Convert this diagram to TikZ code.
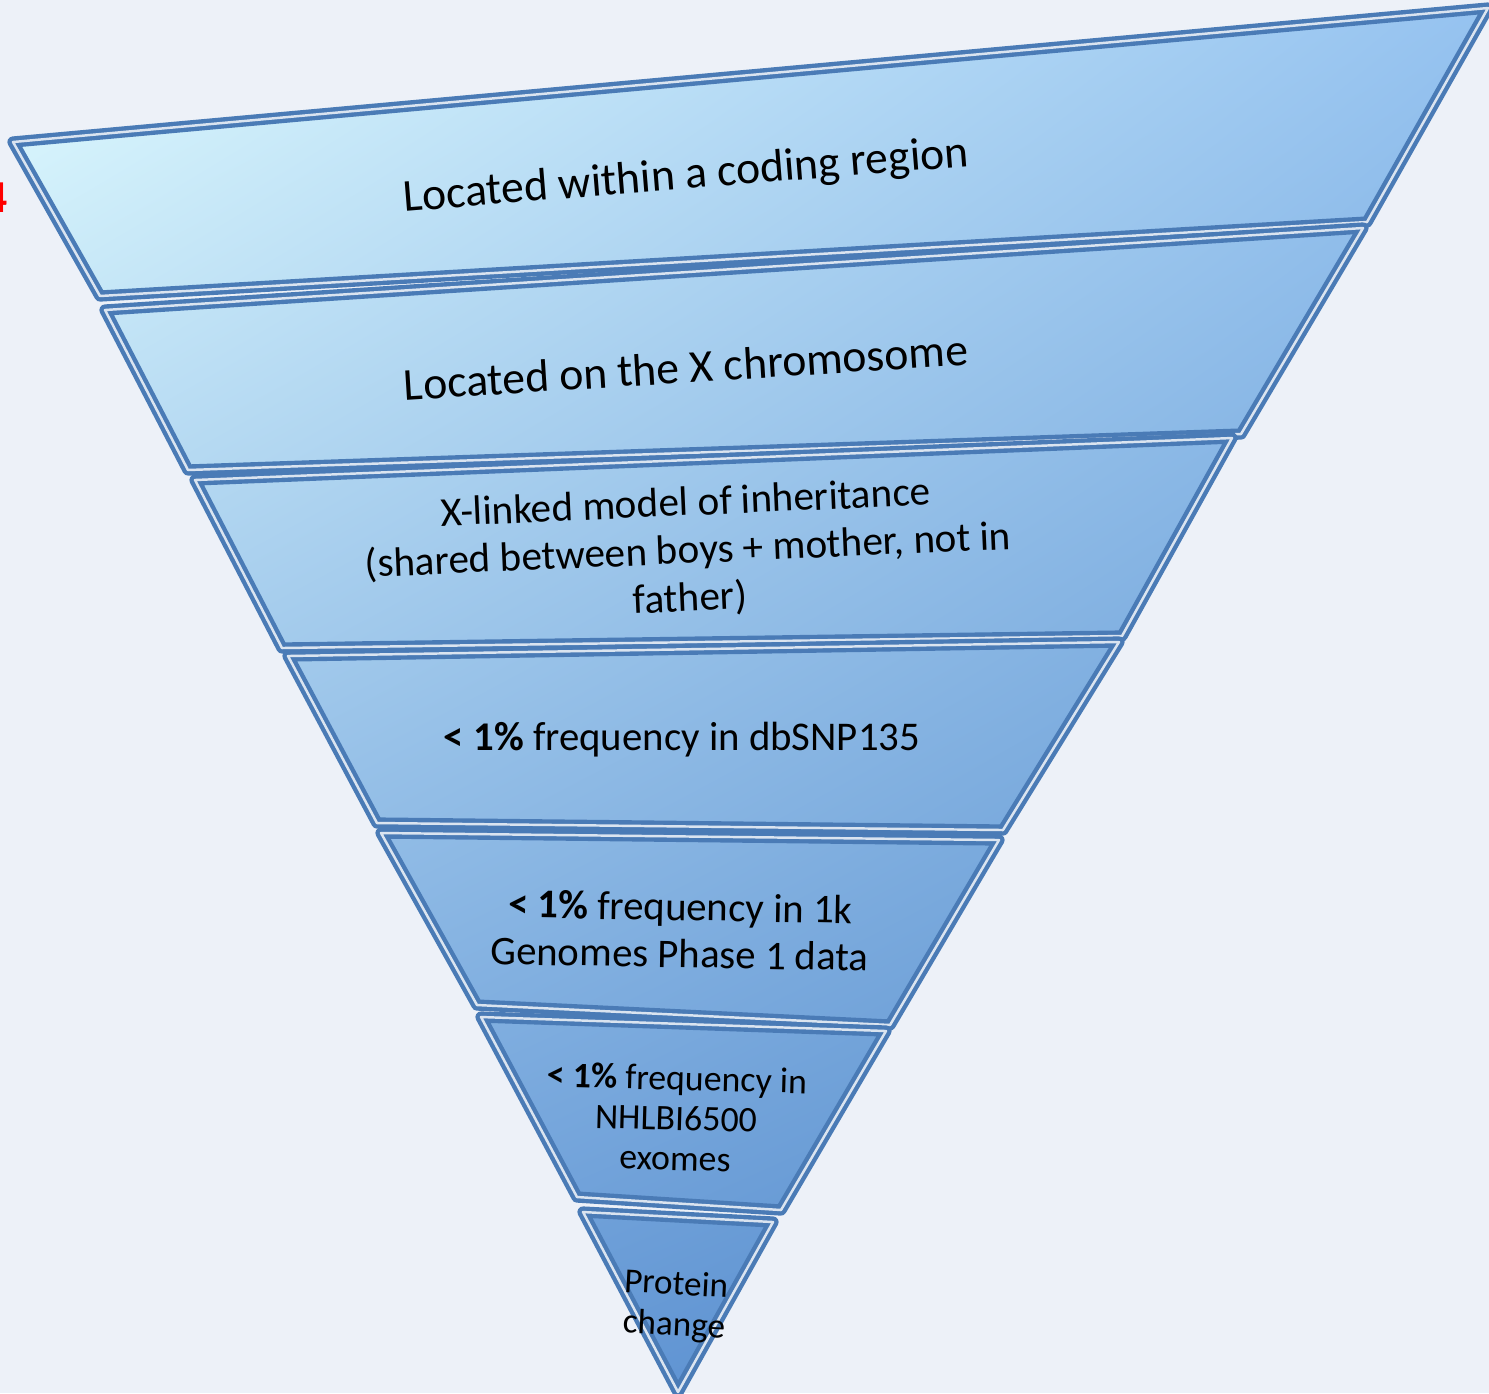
\documentclass[tikz,border=0pt]{standalone}
\usepackage{fontspec}
\setmainfont{Carlito}
\usetikzlibrary{shadings}
\definecolor{pagebg}{HTML}{EDF1F8}
\definecolor{rim}{HTML}{4A7BB6}
\definecolor{paleul}{HTML}{E2FDFF}
\definecolor{paleur}{HTML}{96C3F0}
\definecolor{deepll}{HTML}{72A3DE}
\definecolor{deeplr}{HTML}{4A82C5}

\begin{document}
\begin{tikzpicture}[x=0.01cm, y=-0.01cm,
    band/.style={draw=rim, line width=3.2pt, line join=round},
    ridge/.style={draw=white, line width=0.7pt, opacity=0.8, line join=round},
    label/.style={align=center, text=black, inner sep=0pt},
]
    \fill[pagebg] (0,0) rectangle (1489,1393);
    \useasboundingbox (0,0) rectangle (1489,1393);

    \coordinate (b1-tl) at (13,142);   \coordinate (b1-tr) at (1488,8);
    \coordinate (b1-br) at (1367,222); \coordinate (b1-bl) at (100,296);
    \coordinate (b2-tl) at (105,310);  \coordinate (b2-tr) at (1363,228);
    \coordinate (b2-br) at (1241,434); \coordinate (b2-bl) at (188,470);
    \coordinate (b3-tl) at (195,480);  \coordinate (b3-tr) at (1232,438);
    \coordinate (b3-br) at (1122,636); \coordinate (b3-bl) at (282,648);
    \coordinate (b4-tl) at (288,656);  \coordinate (b4-tr) at (1119,642);
    \coordinate (b4-br) at (1003,830); \coordinate (b4-bl) at (377,823);
    \coordinate (b5-tl) at (381,833);  \coordinate (b5-tr) at (999,840);
    \coordinate (b5-br) at (890,1025); \coordinate (b5-bl) at (477,1005);
    \coordinate (b6-tl) at (481,1017); \coordinate (b6-tr) at (886,1031);
    \coordinate (b6-br) at (781,1210); \coordinate (b6-bl) at (577,1197);
    \coordinate (b7-tl) at (583,1212); \coordinate (b7-tr) at (773,1222);
    \coordinate (b7-br) at (678,1392); \coordinate (b7-bl) at (678,1392);

    \begin{scope}
        \clip \foreach \b in {1,...,7} {(b\b-tl) -- (b\b-tr) -- (b\b-br) -- (b\b-bl) -- cycle};
        \shade[upper left=paleul, upper right=paleur, lower left=deepll, lower right=deeplr]
            (0,0) rectangle (1489,1393);
    \end{scope}
    \foreach \b in {1,...,7} {
        \draw[band] (b\b-tl) -- (b\b-tr) -- (b\b-br) -- (b\b-bl) -- cycle;
        \draw[ridge] (b\b-tl) -- (b\b-tr) -- (b\b-br) -- (b\b-bl) -- cycle;
    }

    \node[label, rotate=4.6, font=\fontsize{13}{15}\selectfont] (t1) at (686,177) {Located within a coding region};
    \node[label, rotate=3.6, font=\fontsize{13}{15}\selectfont] (t2) at (686,367) {Located on the X chromosome};
    \node[label, rotate=2.5, font=\fontsize{11.7}{13.6}\selectfont] (t3) at (688,552)
        {X-linked model of inheritance\\(shared between boys + mother, not in\\father)};
    \node[label, font=\fontsize{11.6}{13}\selectfont] (t4) at (682,740) {\textbf{< 1\%} frequency in dbSNP135};
    \node[label, rotate=-1, font=\fontsize{11.6}{13.4}\selectfont] (t5) at (680,930)
        {\textbf{< 1\%} frequency in 1k\\Genomes Phase 1 data};
    \node[label, rotate=-1.5, font=\fontsize{10.2}{11.4}\selectfont] (t6) at (676,1118)
        {\textbf{< 1\%} frequency in\\NHLBI6500\\exomes};
    \node[label, rotate=-3, font=\fontsize{10}{11.6}\selectfont] (t7) at (675,1306) {Protein\\change};

    \node[anchor=east, text=red, inner sep=0pt, font=\fontsize{13}{15}\selectfont\bfseries] (mark) at (8,198) {4};
\end{tikzpicture}
\end{document}
